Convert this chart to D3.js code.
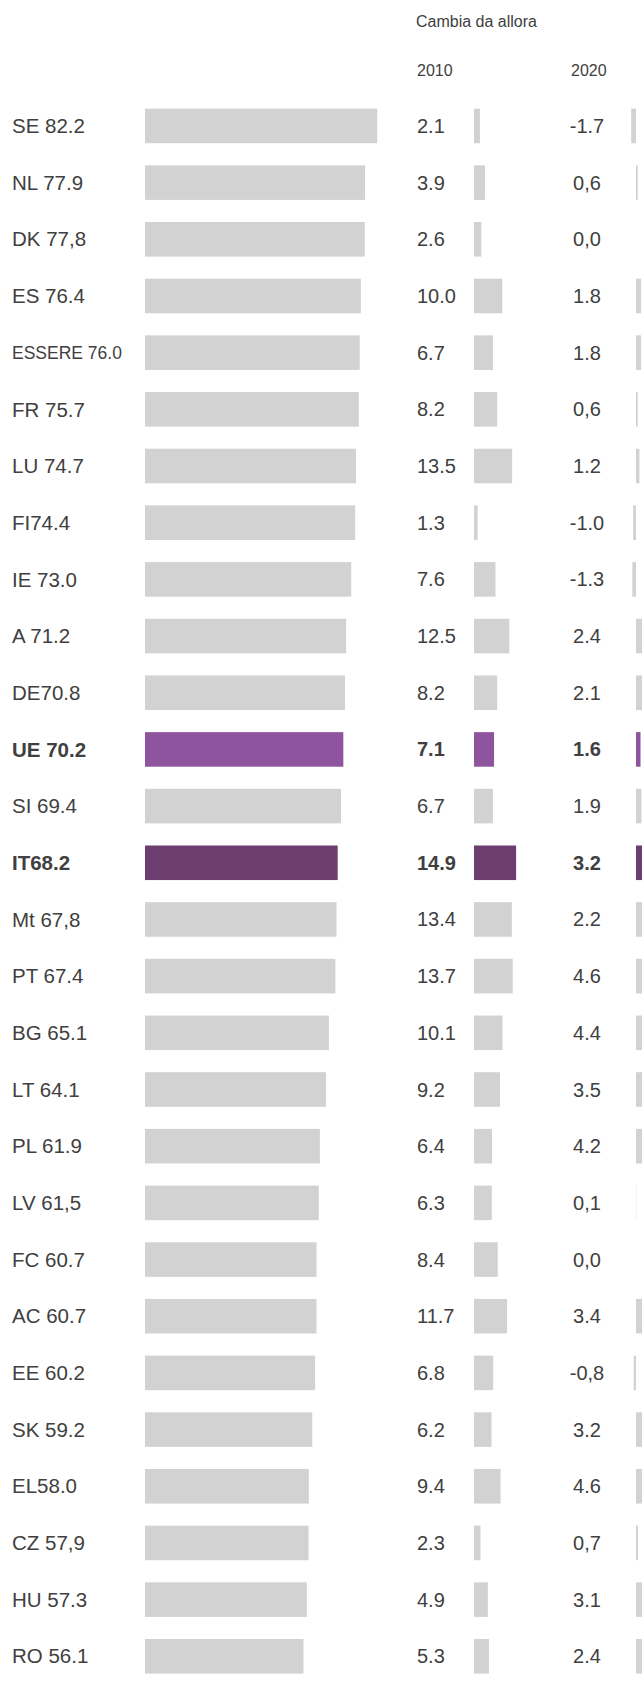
<!DOCTYPE html>
<html>
<head>
<meta charset="utf-8">
<script src="https://cdn.jsdelivr.net/npm/d3@7"></script>
<style>
  body { margin: 0; background: #fff; }
  text { font-family: Arial, "Liberation Sans", sans-serif; fill: #404040; }
</style>
</head>
<body>
<main></main>
<script>
// row labels as they appear in the chart
var labels = ["SE 82.2", "NL 77.9", "DK 77,8", "ES 76.4", "ESSERE 76.0", "FR 75.7", "LU 74.7",
  "FI74.4", "IE 73.0", "A 71.2", "DE70.8", "UE 70.2", "SI 69.4", "IT68.2", "Mt 67,8", "PT 67.4",
  "BG 65.1", "LT 64.1", "PL 61.9", "LV 61,5", "FC 60.7", "AC 60.7", "EE 60.2", "SK 59.2",
  "EL58.0", "CZ 57,9", "HU 57.3", "RO 56.1"];
var rate = [82.2, 77.9, 77.8, 76.4, 76.0, 75.7, 74.7, 74.4, 73.0, 71.2, 70.8, 70.2, 69.4, 68.2,
  67.8, 67.4, 65.1, 64.1, 61.9, 61.5, 60.7, 60.7, 60.2, 59.2, 58.0, 57.9, 57.3, 56.1];

var change2010 = [2.1, 3.9, 2.6, 10.0, 6.7, 8.2, 13.5, 1.3, 7.6, 12.5, 8.2, 7.1, 6.7, 14.9,
  13.4, 13.7, 10.1, 9.2, 6.4, 6.3, 8.4, 11.7, 6.8, 6.2, 9.4, 2.3, 4.9, 5.3];
var text2010 = ["2.1", "3.9", "2.6", "10.0", "6.7", "8.2", "13.5", "1.3", "7.6", "12.5", "8.2",
  "7.1", "6.7", "14.9", "13.4", "13.7", "10.1", "9.2", "6.4", "6.3", "8.4", "11.7", "6.8", "6.2",
  "9.4", "2.3", "4.9", "5.3"];

var change2020 = [-1.7, 0.6, 0.0, 1.8, 1.8, 0.6, 1.2, -1.0, -1.3, 2.4, 2.1, 1.6, 1.9, 3.2,
  2.2, 4.6, 4.4, 3.5, 4.2, 0.1, 0.0, 3.4, -0.8, 3.2, 4.6, 0.7, 3.1, 2.4];
var text2020 = ["-1.7", "0,6", "0,0", "1.8", "1.8", "0,6", "1.2", "-1.0", "-1.3", "2.4", "2.1",
  "1.6", "1.9", "3.2", "2.2", "4.6", "4.4", "3.5", "4.2", "0,1", "0,0", "3.4", "-0,8", "3.2",
  "4.6", "0,7", "3.1", "2.4"];

var headers = ["Cambia da allora", "2010", "2020"];

var width = 642, height = 1694;

var svg = d3.select("main")
  .append("svg")
    .attr("width", width)
    .attr("height", height);

var idx = d3.range(labels.length);

var y = d3.scaleBand()
  .domain(idx)
  .range([97.6, 97.6 + 56.68 * labels.length])
  .paddingInner(0.39)
  .paddingOuter(0.195);

var xMain = d3.scaleLinear().domain([0, 100]).range([145, 427.5]);
var x2010 = d3.scaleLinear().domain([0, 100]).range([474, 756.5]);
var x2020 = d3.scaleLinear().domain([0, 100]).range([636, 918.5]);

function colour(i) {
  if (labels[i].indexOf("UE") === 0) return "#8e549d";
  if (labels[i].indexOf("IT") === 0) return "#6c3d6f";
  return "#d1d2d1";
}
function isBold(i) {
  return labels[i].indexOf("UE") === 0 || labels[i].indexOf("IT") === 0;
}
function mid(i) { return y(i) + y.bandwidth() / 2; }

// headers
svg.append("text")
  .attr("x", 416).attr("y", 27)
  .attr("font-size", 16)
  .text(headers[0]);
svg.append("text")
  .attr("x", 417).attr("y", 76)
  .attr("font-size", 16)
  .text(headers[1]);
svg.append("text")
  .attr("x", 571).attr("y", 76)
  .attr("font-size", 16)
  .text(headers[2]);

var rows = svg.selectAll("g.row")
  .data(idx)
  .enter()
  .append("g")
    .attr("class", "row");

rows.append("text")
  .attr("x", 12)
  .attr("y", function(i) { return mid(i); })
  .attr("dy", "0.35em")
  .attr("font-size", function(i) { return labels[i].indexOf("ESSERE") === 0 ? 17.5 : 20.5; })
  .attr("font-weight", function(i) { return isBold(i) ? "bold" : "normal"; })
  .text(function(i) { return labels[i]; });

rows.append("rect")
  .attr("x", xMain(0))
  .attr("y", function(i) { return y(i); })
  .attr("width", function(i) { return xMain(rate[i]) - xMain(0); })
  .attr("height", y.bandwidth())
  .attr("fill", colour);

rows.append("text")
  .attr("x", 417)
  .attr("y", function(i) { return mid(i); })
  .attr("dy", "0.35em")
  .attr("font-size", 20)
  .attr("font-weight", function(i) { return isBold(i) ? "bold" : "normal"; })
  .text(function(i) { return text2010[i]; });

rows.append("rect")
  .attr("x", function(i) { return Math.min(x2010(0), x2010(change2010[i])); })
  .attr("y", function(i) { return y(i); })
  .attr("width", function(i) { return Math.abs(x2010(change2010[i]) - x2010(0)); })
  .attr("height", y.bandwidth())
  .attr("fill", colour);

rows.append("text")
  .attr("x", 587)
  .attr("y", function(i) { return mid(i); })
  .attr("dy", "0.35em")
  .attr("text-anchor", "middle")
  .attr("font-size", 20)
  .attr("font-weight", function(i) { return isBold(i) ? "bold" : "normal"; })
  .text(function(i) { return text2020[i]; });

rows.append("rect")
  .attr("x", function(i) { return Math.min(x2020(0), x2020(change2020[i])); })
  .attr("y", function(i) { return y(i); })
  .attr("width", function(i) { return Math.abs(x2020(change2020[i]) - x2020(0)); })
  .attr("height", y.bandwidth())
  .attr("fill", colour);
</script>
</body>
</html>
